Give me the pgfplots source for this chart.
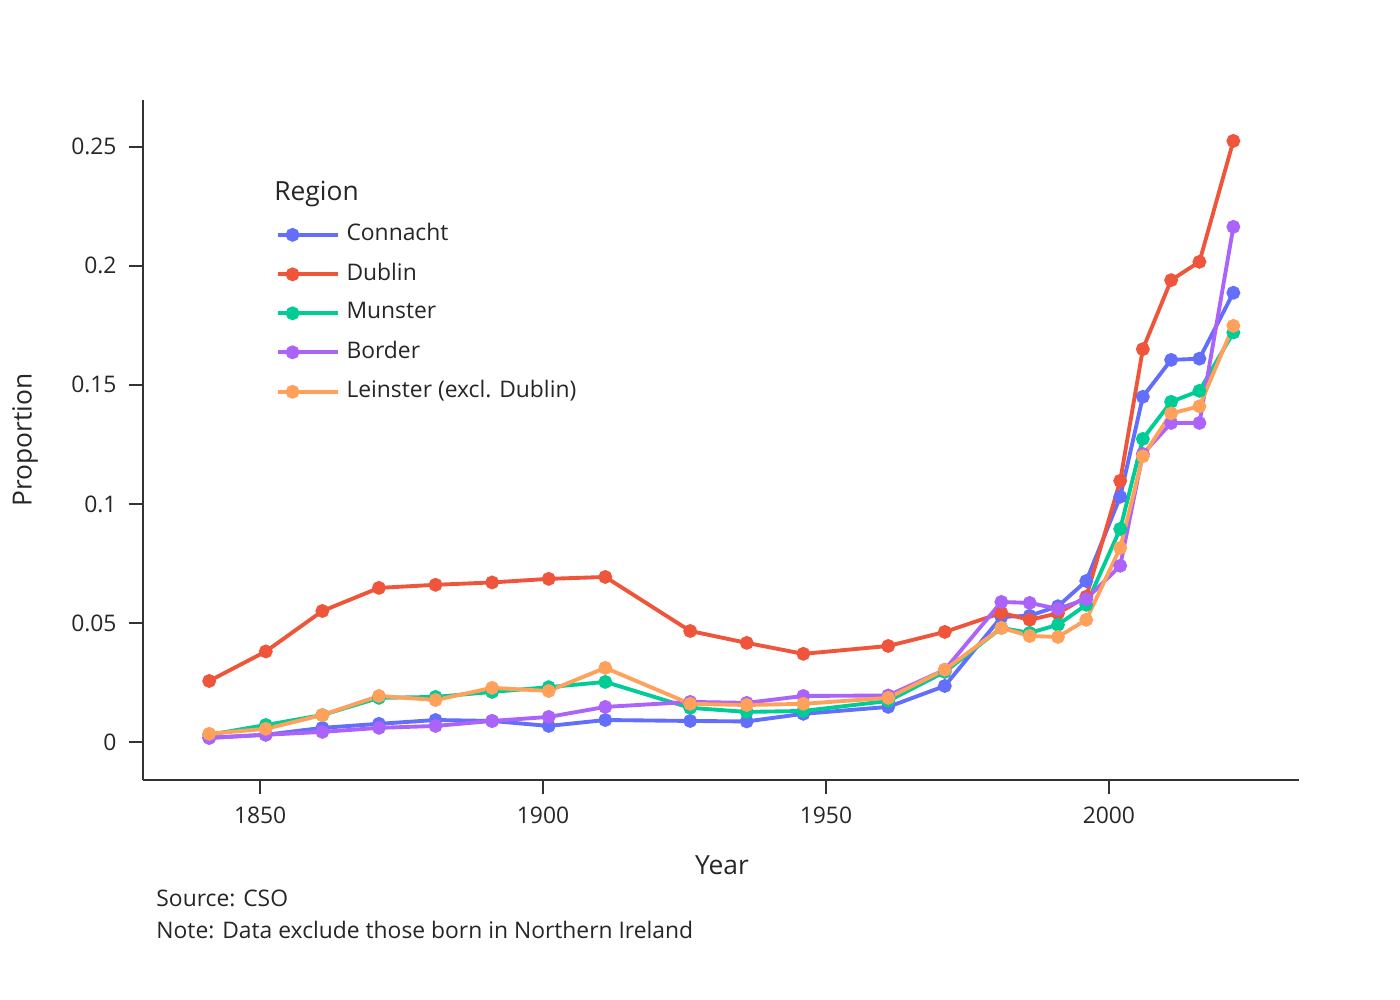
\documentclass[border=0pt]{standalone}
\usepackage{pgfplots}
\pgfplotsset{compat=1.18}
\usepackage{fontspec}
\setmainfont{Open Sans}
\definecolor{cC}{HTML}{636EFA}
\definecolor{cD}{HTML}{EF553B}
\definecolor{cM}{HTML}{00CC96}
\definecolor{cB}{HTML}{AB63FA}
\definecolor{cL}{HTML}{FFA15A}
\begin{document}
\begin{tikzpicture}[x=1cm,y=1cm]
\path[fill=white] (0,0) rectangle (14,10);
\begin{axis}[at={(1.43cm,2.20cm)},anchor=south west,scale only axis,
 width=11.56cm,height=6.8cm,
 xmin=1829.3,xmax=2033.6,ymin=-0.016,ymax=0.2697,
 axis lines*=left, axis line style={thick,black!80},
 xtick={1850,1900,1950,2000}, ytick={0,0.05,0.1,0.15,0.2,0.25},
 yticklabels={0,0.05,0.1,0.15,0.2,0.25},
 xticklabel style={/pgf/number format/1000 sep=},
 /pgf/number format/assume math mode=true,
 tick style={black!80,thin}, tick align=outside, major tick length=4pt,
 ticklabel style={font=\fontsize{6.5}{7}\selectfont, text=black!85},
 every axis plot/.append style={line width=1.1pt, mark=*, mark size=1.4pt},
 legend style={at={(0.105,0.84)},anchor=north west,draw=none,fill=none,
   font=\fontsize{6.5}{7}\selectfont, row sep=0.8pt, text=black!85},
 legend cell align=left,
 legend image code/.code={\draw[#1] (0cm,0cm)--(0.6cm,0cm); \draw[#1,mark repeat=1] plot coordinates {(0.15cm,0cm)};},
]
\addplot[cC, mark options={fill=cC}] coordinates {(1841,0.0017)(1851,0.003)(1861,0.0059)(1871,0.0076)(1881,0.0092)(1891,0.0088)(1901,0.0067)(1911,0.0092)(1926,0.0088)(1936,0.0086)(1946,0.0118)(1961,0.0147)(1971,0.0235)(1981,0.0525)(1986,0.053)(1991,0.057)(1996,0.0676)(2002,0.103)(2006,0.145)(2011,0.1605)(2016,0.161)(2022,0.1887)};
\addlegendentry{Connacht}
\addplot[cD, mark options={fill=cD}] coordinates {(1841,0.0256)(1851,0.038)(1861,0.055)(1871,0.0647)(1881,0.066)(1891,0.067)(1901,0.0685)(1911,0.0693)(1926,0.0466)(1936,0.0416)(1946,0.037)(1961,0.0403)(1971,0.0462)(1981,0.0542)(1986,0.0513)(1991,0.054)(1996,0.061)(2002,0.1097)(2006,0.165)(2011,0.194)(2016,0.2017)(2022,0.2525)};
\addlegendentry{Dublin}
\addplot[cM, mark options={fill=cM}] coordinates {(1841,0.003)(1851,0.0071)(1861,0.0113)(1871,0.0185)(1881,0.0189)(1891,0.021)(1901,0.023)(1911,0.0252)(1926,0.0143)(1936,0.0126)(1946,0.013)(1961,0.0172)(1971,0.0294)(1981,0.0479)(1986,0.0458)(1991,0.0492)(1996,0.0576)(2002,0.0895)(2006,0.1273)(2011,0.1429)(2016,0.1475)(2022,0.172)};
\addlegendentry{Munster}
\addplot[cB, mark options={fill=cB}] coordinates {(1841,0.0017)(1851,0.003)(1861,0.0042)(1871,0.0059)(1881,0.0067)(1891,0.0088)(1901,0.0105)(1911,0.0147)(1926,0.0168)(1936,0.0164)(1946,0.0193)(1961,0.0195)(1971,0.0303)(1981,0.0588)(1986,0.0584)(1991,0.0559)(1996,0.060)(2002,0.074)(2006,0.121)(2011,0.134)(2016,0.134)(2022,0.2164)};
\addlegendentry{Border}
\addplot[cL, mark options={fill=cL}] coordinates {(1841,0.0034)(1851,0.0055)(1861,0.0113)(1871,0.0193)(1881,0.0176)(1891,0.0227)(1901,0.0214)(1911,0.0311)(1926,0.016)(1936,0.0155)(1946,0.016)(1961,0.0185)(1971,0.0303)(1981,0.0479)(1986,0.0445)(1991,0.0441)(1996,0.0513)(2002,0.0815)(2006,0.120)(2011,0.138)(2016,0.141)(2022,0.1748)};
\addlegendentry{Leinster (excl. Dublin)}
\end{axis}
\node[anchor=west,font=\fontsize{7.5}{8}\selectfont,text=black!85] at (2.62,8.06) {Region};
\node[font=\fontsize{7.5}{8}\selectfont,text=black!85] at (7.22,1.35) {Year};
\node[rotate=90,font=\fontsize{7.5}{8}\selectfont,text=black!85] at (0.25,5.6) {Proportion};
\node[anchor=west,font=\fontsize{6.5}{7}\selectfont,text=black!85] at (1.44,1.02) {Source: CSO};
\node[anchor=west,font=\fontsize{6.5}{7}\selectfont,text=black!85] at (1.44,0.70) {Note: Data exclude those born in Northern Ireland};
\end{tikzpicture}
\end{document}
